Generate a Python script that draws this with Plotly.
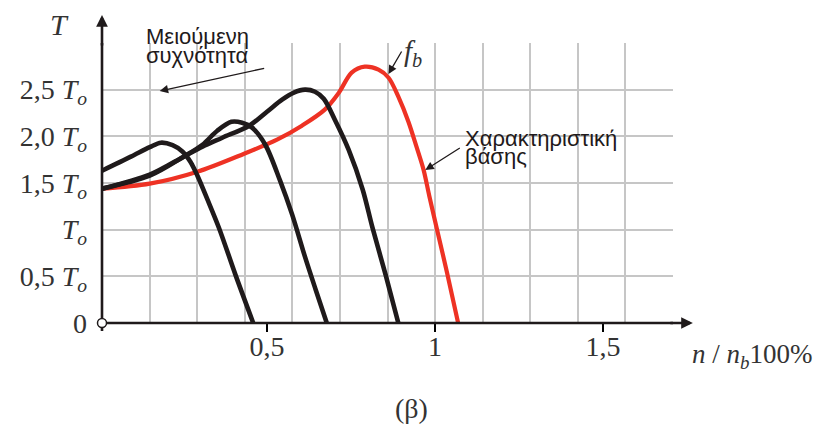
import plotly.graph_objects as go

# ---- data (n / n_b , T / T_o) ----
n_base = [0.009, 0.151, 0.293, 0.432, 0.530, 0.604, 0.672, 0.714, 0.752, 0.791, 0.832,
          0.862, 0.891, 0.921, 0.945, 0.966, 0.983, 1.007, 1.036, 1.069]
t_base = [1.439, 1.493, 1.621, 1.814, 1.964, 2.114, 2.286, 2.468, 2.682, 2.746, 2.714,
          2.628, 2.425, 2.157, 1.889, 1.643, 1.364, 0.989, 0.539, 0.0]

n_f1 = [0.009, 0.095, 0.151, 0.184, 0.219, 0.249, 0.272, 0.293, 0.323, 0.358, 0.406, 0.459]
t_f1 = [1.632, 1.782, 1.884, 1.932, 1.905, 1.835, 1.728, 1.578, 1.321, 1.010, 0.518, 0.0]

n_f2 = [0.009, 0.151, 0.252, 0.308, 0.352, 0.394, 0.426, 0.456, 0.495, 0.539, 0.575,
        0.613, 0.645, 0.678]
t_f2 = [1.439, 1.578, 1.782, 1.910, 2.060, 2.156, 2.146, 2.093, 1.910, 1.525, 1.161,
        0.711, 0.357, 0.0]

n_f3 = [0.009, 0.151, 0.252, 0.308, 0.367, 0.447, 0.500, 0.545, 0.580, 0.613, 0.643,
        0.669, 0.702, 0.743, 0.785, 0.814, 0.853, 0.891]
t_f3 = [1.439, 1.589, 1.782, 1.889, 1.985, 2.114, 2.264, 2.393, 2.468, 2.500, 2.478,
        2.403, 2.178, 1.857, 1.428, 1.021, 0.518, 0.0]

x_tickvals = [0.5, 1.0, 1.5]
x_ticktext = ["0,5", "1", "1,5"]
y_tickvals = [0, 0.5, 1.0, 1.5, 2.0, 2.5, 3.0]
y_ticktext = ["0", "0,5 <i>T<sub>o</sub></i>", "<i>T<sub>o</sub></i>",
              "1,5 <i>T<sub>o</sub></i>", "2,0 <i>T<sub>o</sub></i>",
              "2,5 <i>T<sub>o</sub></i>", ""]

SERIF = "Liberation Serif"
SANS = "Liberation Sans"
TXT = "#333333"
BLACK = "#1f1a1b"
RED = "#ee3224"

fig = go.Figure()
fig.add_trace(go.Scatter(x=n_base, y=t_base, mode="lines", line=dict(color=RED, width=4.2, shape="spline", smoothing=0.9)))
for nx, ty in [(n_f1, t_f1), (n_f2, t_f2), (n_f3, t_f3)]:
    fig.add_trace(go.Scatter(x=nx, y=ty, mode="lines", line=dict(color=BLACK, width=4.6, shape="spline", smoothing=0.9)))

# page body has an 8px margin: figure is 821x419 and placed at (8, 8)
fig.update_layout(
    width=821, height=419, autosize=False,
    margin=dict(l=91, r=156, t=35, b=104),
    paper_bgcolor="white", plot_bgcolor="white",
    showlegend=False,
    xaxis=dict(range=[0.0089, 1.7086], tickvals=x_tickvals, ticktext=x_ticktext,
               ticks="outside", ticklen=8, tickwidth=1.6, tickcolor="black",
               ticklabelstandoff=-10,
               showgrid=False, zeroline=False, showline=False,
               tickfont=dict(family=SERIF, size=28, color=TXT)),
    xaxis2=dict(overlaying="x", anchor="y", range=[0, 12], dtick=1, tick0=0,
                showgrid=True, gridcolor="#c6c6c6", gridwidth=1.5,
                showticklabels=False, ticks="", zeroline=False, showline=False),
    yaxis=dict(range=[0, 3.0], tickvals=y_tickvals, ticktext=y_ticktext,
               showgrid=True, gridcolor="#c6c6c6", gridwidth=1.5, zeroline=False,
               showline=False, ticks="", ticklabelstandoff=14,
               tickfont=dict(family=SERIF, size=28, color=TXT)),
)
# invisible trace to activate the grid axis
fig.add_trace(go.Scatter(x=[0], y=[0], xaxis="x2", yaxis="y", mode="markers",
                         marker=dict(size=1, opacity=0), hoverinfo="skip"))

# axis lines and origin circle
fig.add_shape(type="line", xref="paper", yref="paper", x0=0, x1=0, y0=-0.0286, y1=1.0,
              line=dict(color=BLACK, width=2.6), layer="above")
fig.add_shape(type="line", xref="paper", yref="paper", x0=0, x1=1.0, y0=0, y1=0,
              line=dict(color=BLACK, width=2.6), layer="above")
fig.add_shape(type="circle", xref="paper", yref="paper", xsizemode="pixel", ysizemode="pixel",
              xanchor=0, yanchor=0, x0=-4.5, x1=4.5, y0=-4.5, y1=4.5,
              fillcolor="white", line=dict(color=BLACK, width=1.5), layer="above")

ann = []
# axis arrowheads
ann.append(dict(xref="paper", yref="paper", x=0, y=1.1, ax=0, ay=32, text="", showarrow=True,
                arrowhead=2, arrowsize=0.9, arrowwidth=2.6, arrowcolor=BLACK))
ann.append(dict(xref="paper", yref="paper", x=1.0348, y=0, ax=-24, ay=0, text="", showarrow=True,
                arrowhead=2, arrowsize=0.9, arrowwidth=2.6, arrowcolor=BLACK))
# axis titles
ann.append(dict(xref="paper", yref="paper", x=-0.0749, y=1.0643, text="<i>T</i>", showarrow=False,
                font=dict(family=SERIF, size=30, color=TXT), xanchor="center", yanchor="middle"))
ann.append(dict(xref="paper", yref="paper", x=1.0300, y=-0.1179,
                text="<i>n</i> / <i>n<sub>b</sub></i>100%", showarrow=False,
                font=dict(family=SERIF, size=27, color=TXT), xanchor="left", yanchor="middle"))
ann.append(dict(xref="paper", yref="paper", x=0.5418, y=-0.3071, text="(β)", showarrow=False,
                font=dict(family=SERIF, size=28, color=TXT), xanchor="center", yanchor="middle"))
# text labels
ann.append(dict(xref="paper", yref="paper", x=0.0740, y=1.025, text="Μειούμενη", showarrow=False,
                font=dict(family=SANS, size=22, color=BLACK), xanchor="left", yanchor="middle"))
ann.append(dict(xref="paper", yref="paper", x=0.0740, y=0.9536, text="συχνότητα", showarrow=False,
                font=dict(family=SANS, size=22, color=BLACK), xanchor="left", yanchor="middle"))
ann.append(dict(xref="paper", yref="paper", x=0.101, y=0.8286, ax=106, ay=-23, text="", showarrow=True,
                arrowhead=2, arrowsize=1.3, arrowwidth=1.3, arrowcolor=BLACK))
ann.append(dict(xref="paper", yref="paper", x=0.5260, y=0.9643, text="<i>f<sub>b</sub></i>", showarrow=False,
                font=dict(family=SERIF, size=29, color=TXT), xanchor="left", yanchor="middle"))
ann.append(dict(xref="paper", yref="paper", x=0.5017, y=0.8893, ax=14, ay=-24, text="", showarrow=True,
                arrowhead=2, arrowsize=1.3, arrowwidth=1.3, arrowcolor=BLACK))
ann.append(dict(xref="paper", yref="paper", x=0.6320, y=0.6607, text="Χαρακτηριστική", showarrow=False,
                font=dict(family=SANS, size=22, color=BLACK), xanchor="left", yanchor="middle"))
ann.append(dict(xref="paper", yref="paper", x=0.6320, y=0.5929, text="βάσης", showarrow=False,
                font=dict(family=SANS, size=22, color=BLACK), xanchor="left", yanchor="middle"))
ann.append(dict(xref="paper", yref="paper", x=0.5662, y=0.5464, ax=36, ay=-23, text="", showarrow=True,
                arrowhead=2, arrowsize=1.3, arrowwidth=1.3, arrowcolor=BLACK))
fig.update_layout(annotations=ann)

fig.write_html("out.html")
